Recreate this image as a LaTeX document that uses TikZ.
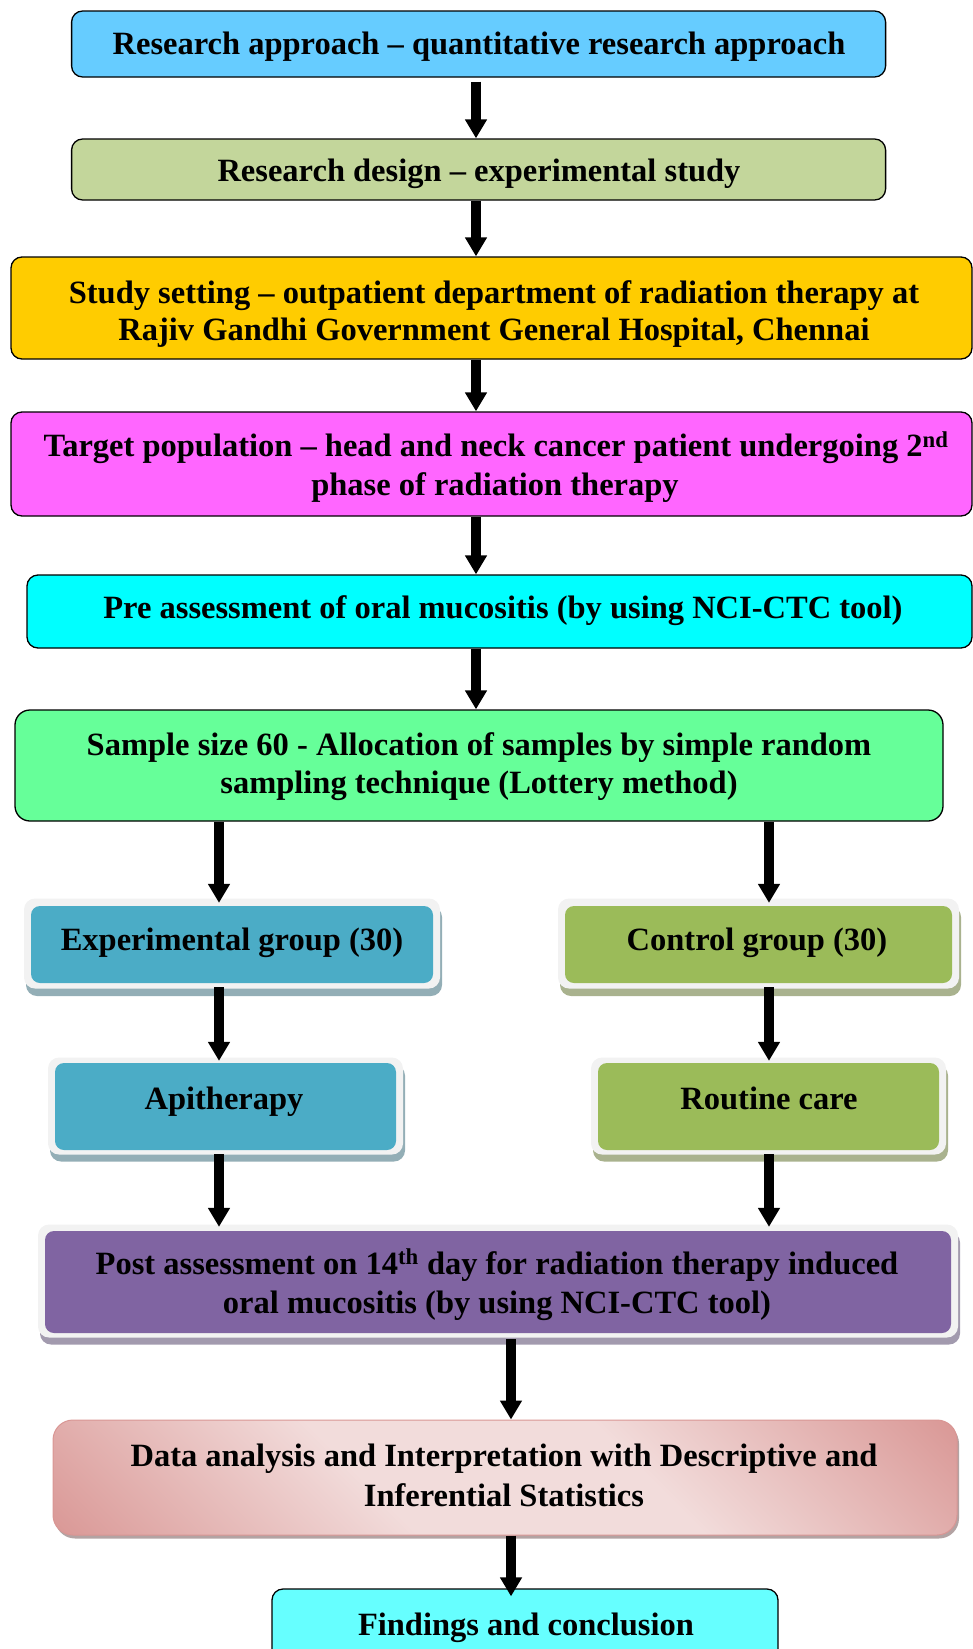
\documentclass[tikz,border=0pt]{standalone}
\usepackage{fontspec}
\setmainfont{Liberation Serif}
\usetikzlibrary{arrows.meta,calc}
\definecolor{cA}{HTML}{66CCFF}
\definecolor{cB}{HTML}{C3D69B}
\definecolor{cC}{HTML}{FFCC00}
\definecolor{cD}{HTML}{FF66FF}
\definecolor{cE}{HTML}{00FFFF}
\definecolor{cF}{HTML}{66FF99}
\definecolor{expc}{HTML}{4BACC6}
\definecolor{expsh}{HTML}{93AEB6}
\definecolor{ctlc}{HTML}{9BBB59}
\definecolor{ctlsh}{HTML}{A9B28E}
\definecolor{postc}{HTML}{8064A2}
\definecolor{postsh}{HTML}{A29AAE}
\definecolor{rimc}{HTML}{F2F2F2}
\definecolor{findc}{HTML}{66FFFF}
\definecolor{datal}{HTML}{F2DCDB}
\definecolor{datad}{HTML}{D99694}
\definecolor{datash}{HTML}{B3A3A3}
\pgfdeclarehorizontalshading{datashade}{100bp}{color(0bp)=(datad); color(14bp)=(datad); color(40bp)=(datal); color(60bp)=(datal); color(86bp)=(datad); color(100bp)=(datad)}
\begin{document}
\begin{tikzpicture}[x=1pt,y=-1pt,
  plainbox/.style={rectangle, rounded corners=11pt, draw=black, line width=1.3pt, inner sep=0pt},
  bevsh/.style={rectangle, rounded corners=11pt, inner sep=0pt, draw=none},
  bevrim/.style={rectangle, rounded corners=11pt, inner sep=0pt, fill=rimc, draw=none},
  bevin/.style={rectangle, rounded corners=9pt, inner sep=0pt, draw=none},
  txt/.style={inner sep=0pt, anchor=base, font=\fontsize{32.5}{38}\selectfont\bfseries},
  arr/.style={line width=10.5pt, -{Triangle[width=21pt,length=19pt]}}
]
\useasboundingbox (0,0) rectangle (973,1649);
\clip (0,0) rectangle (973,1649);

% top chain
\node[plainbox, fill=cA, minimum width=814pt, minimum height=66pt] (b1) at (478.6,44) {};
\node[plainbox, fill=cB, minimum width=814pt, minimum height=61pt] (b2) at (478.6,169.5) {};
\node[plainbox, fill=cC, minimum width=961pt, minimum height=102pt] (b3) at (491.5,308) {};
\node[plainbox, fill=cD, minimum width=961pt, minimum height=104pt] (b4) at (491.5,464) {};
\node[plainbox, fill=cE, minimum width=945pt, minimum height=73pt] (b5) at (499.5,611.5) {};
\node[plainbox, fill=cF, rounded corners=15pt, minimum width=928pt, minimum height=111pt] (b6) at (479,765.5) {};

% bevelled boxes
\node[bevsh, fill=expsh, minimum width=416pt, minimum height=90pt] (expS) at (234,951) {};
\node[bevrim, minimum width=416pt, minimum height=90pt] (expR) at (232,943.5) {};
\node[bevin, fill=expc, minimum width=402pt, minimum height=77pt] (exp) at (232,944.5) {};

\node[bevsh, fill=ctlsh, minimum width=401pt, minimum height=90pt] (ctlS) at (760.5,951) {};
\node[bevrim, minimum width=401pt, minimum height=90pt] (ctlR) at (758.5,943.5) {};
\node[bevin, fill=ctlc, minimum width=387pt, minimum height=77pt] (ctl) at (758.5,944.5) {};

\node[bevsh, fill=expsh, minimum width=355pt, minimum height=97pt] (apiS) at (227.5,1113) {};
\node[bevrim, minimum width=355pt, minimum height=97pt] (apiR) at (225.5,1106) {};
\node[bevin, fill=expc, minimum width=341pt, minimum height=87pt] (api) at (225.5,1106.5) {};

\node[bevsh, fill=ctlsh, minimum width=355pt, minimum height=97pt] (rouS) at (770.5,1113) {};
\node[bevrim, minimum width=355pt, minimum height=97pt] (rouR) at (768.5,1106) {};
\node[bevin, fill=ctlc, minimum width=341pt, minimum height=87pt] (rou) at (768.5,1106.5) {};

\node[bevsh, fill=postsh, minimum width=920pt, minimum height=113pt] (postS) at (500,1288) {};
\node[bevrim, minimum width=920pt, minimum height=113pt] (postR) at (498,1281) {};
\node[bevin, fill=postc, minimum width=906pt, minimum height=102pt] (post) at (498,1282) {};

% data box
\node[rectangle, rounded corners=20pt, inner sep=0pt, fill=datash, minimum width=904pt, minimum height=115pt] (dataS) at (507,1481) {};
\node[rectangle, rounded corners=20pt, inner sep=0pt, draw=datad, line width=1pt, shade, shading=datashade, shading angle=45, minimum width=904pt, minimum height=115pt] (data) at (505,1477.5) {};

% findings
\node[plainbox, fill=findc, minimum width=506pt, minimum height=81pt] (find) at (525,1629.5) {};

% texts (one node per line, placed on baselines)
\node[txt] (t1) at (479,54.5) {Research approach – quantitative research approach};
\node[txt] (t2) at (479,181.5) {Research design – experimental study};
\node[txt] (t3a) at (494,303) {Study setting – outpatient department of radiation therapy at};
\node[txt] (t3b) at (494,340) {Rajiv Gandhi Government General Hospital, Chennai};
\node[txt] (t4a) at (496,456.5) {Target population – head and neck cancer patient undergoing 2\textsuperscript{nd}};
\node[txt] (t4b) at (495,495) {phase of radiation therapy};
\node[txt] (t5) at (503,618.5) {Pre assessment of oral mucositis (by using NCI-CTC tool)};
\node[txt] (t6a) at (479,755.5) {Sample size 60 - Allocation of samples by simple random};
\node[txt] (t6b) at (479,793.5) {sampling technique (Lottery method)};
\node[txt] (texp) at (232,950) {Experimental group (30)};
\node[txt] (tctl) at (757,950) {Control group (30)};
\node[txt] (tapi) at (224,1109.5) {Apitherapy};
\node[txt] (trou) at (769,1109.5) {Routine care};
\node[txt] (tposta) at (497,1274) {Post assessment on 14\textsuperscript{th} day for radiation therapy induced};
\node[txt] (tpostb) at (497,1313) {oral mucositis (by using NCI-CTC tool)};
\node[txt] (tdataa) at (504,1466.5) {Data analysis and Interpretation with Descriptive and};
\node[txt] (tdatab) at (504,1506) {Inferential Statistics};
\node[txt] (tfind) at (526,1635) {Findings and conclusion};

% arrow columns
\coordinate (xC) at (476,0);
\coordinate (xL) at (219,0);
\coordinate (xR) at (769,0);
\coordinate (xB) at (511,0);

\draw[arr, shorten <=4pt] (b1.south -| xC) -- (b2.north -| xC);
\draw[arr] (b2.south -| xC) -- (b3.north -| xC);
\draw[arr] (b3.south -| xC) -- (b4.north -| xC);
\draw[arr] (b4.south -| xC) -- (b5.north -| xC);
\draw[arr] (b5.south -| xC) -- (b6.north -| xC);
\draw[arr, shorten >=3pt] (b6.south -| xL) -- (exp.north -| xL);
\draw[arr, shorten >=3pt] (b6.south -| xR) -- (ctl.north -| xR);
\draw[arr, shorten <=4pt, shorten >=2pt] (exp.south -| xL) -- (api.north -| xL);
\draw[arr, shorten <=4pt, shorten >=2pt] (ctl.south -| xR) -- (rou.north -| xR);
\draw[arr, shorten <=4pt, shorten >=4pt] (api.south -| xL) -- (post.north -| xL);
\draw[arr, shorten <=4pt, shorten >=4pt] (rou.south -| xR) -- (post.north -| xR);
\draw[arr, shorten <=6pt] (post.south -| xB) -- (data.north -| xB);
\draw[arr, shorten >=-8pt] (data.south -| xB) -- (find.north -| xB);
\end{tikzpicture}
\end{document}
